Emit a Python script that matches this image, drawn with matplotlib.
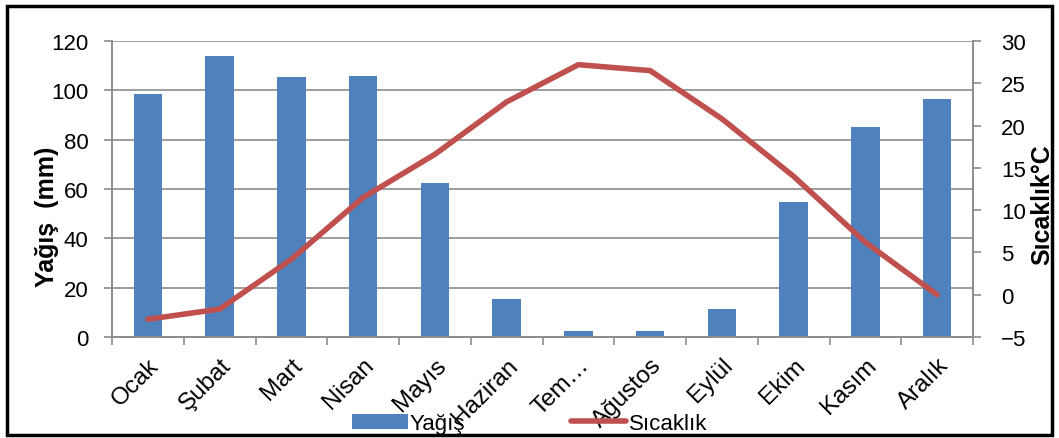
#!/usr/bin/env python3

import numpy as np
import matplotlib
matplotlib.use("Agg")
import matplotlib.pyplot as plt
from matplotlib.patches import Rectangle
from matplotlib.transforms import ScaledTranslation

plt.rcParams['font.family'] = ['Liberation Sans', 'DejaVu Sans']

months = ["Ocak", "Şubat", "Mart", "Nisan", "Mayıs", "Haziran", "Tem…",
          "Ağustos", "Eylül", "Ekim", "Kasım", "Aralık"]
yagis = [98.5, 114, 105.4, 105.8, 62.4, 15.4, 2.4, 2.4, 11.3, 54.7, 85, 96.5]
sicaklik = [-2.9, -1.7, 4.2, 11.5, 16.6, 22.8, 27.2, 26.5, 20.8, 14.0, 6.2, 0.0]

fig = plt.figure(figsize=(10.59, 4.39), dpi=100)
ax = fig.add_axes([112 / 1059, 1 - 338 / 439, (973 - 112) / 1059, (338 - 42) / 439])
ax2 = ax.twinx()

x = np.arange(len(months))
ax.bar(x, yagis, width=0.4, color='#4f81bd', zorder=2, label='Yağış')
ax2.plot(x, sicaklik, color='#c0504d', lw=4, solid_capstyle='round', label='Sıcaklık')

ax.set_xlim(-0.5, len(months) - 0.5)
ax.set_ylim(0, 120)
ax.set_yticks(range(0, 121, 20))
ax2.set_ylim(-5, 30)
ax2.set_yticks(range(-5, 31, 5))

ax.grid(axis='y', color='#8c8c8c', lw=1.2, zorder=0)
ax.set_axisbelow(True)
ax.set_zorder(ax2.get_zorder() - 1)
ax.patch.set_visible(False)

# category ticks sit between the months
ax.set_xticks(np.arange(-0.5, len(months), 1))
ax.set_xticklabels([])
ax.set_xticks(x, minor=True)
ax.set_xticklabels(months, minor=True, rotation=45, ha='right', va='top',
                   rotation_mode='anchor', fontsize=17.5)
shift = ScaledTranslation(-4 / 100, 0, fig.dpi_scale_trans)
for lab in ax.get_xticklabels(minor=True):
    lab.set_transform(lab.get_transform() + shift)
ax.tick_params(axis='x', which='minor', length=0, pad=12)
ax.tick_params(axis='x', which='major', length=6, width=1.2, color='#8c8c8c')
ax.tick_params(axis='y', length=6, width=1.2, color='#8c8c8c', labelsize=16, pad=11)
ax2.tick_params(axis='y', length=6, width=1.2, color='#8c8c8c', labelsize=16, pad=14)

for a in (ax, ax2):
    a.spines['top'].set_visible(False)
    for s in ('left', 'right', 'bottom'):
        a.spines[s].set_color('#8c8c8c')
        a.spines[s].set_linewidth(1.2)

ax.set_ylabel('Yağış  (mm)', fontsize=18, fontweight='bold')
ax.yaxis.set_label_coords(-0.061, 0.41)
ax2.set_ylabel('Sıcaklık°C', fontsize=18, fontweight='bold')
ax2.yaxis.set_label_coords(1.066, 0.45)

h1, l1 = ax.get_legend_handles_labels()
h2, l2 = ax2.get_legend_handles_labels()
fig.legend(h1 + h2, l1 + l2, loc='lower center', bbox_to_anchor=(0.5, -0.037),
           ncol=2, frameon=False, fontsize=16, columnspacing=4.75,
           handlelength=2.5, handletextpad=0.1)

fig.patches.append(Rectangle((7 / 1059, 3 / 439), 1045 / 1059, 429 / 439,
                             transform=fig.transFigure, fill=False,
                             edgecolor='black', lw=2.5, zorder=10))

fig.savefig('out.png', dpi=100)
